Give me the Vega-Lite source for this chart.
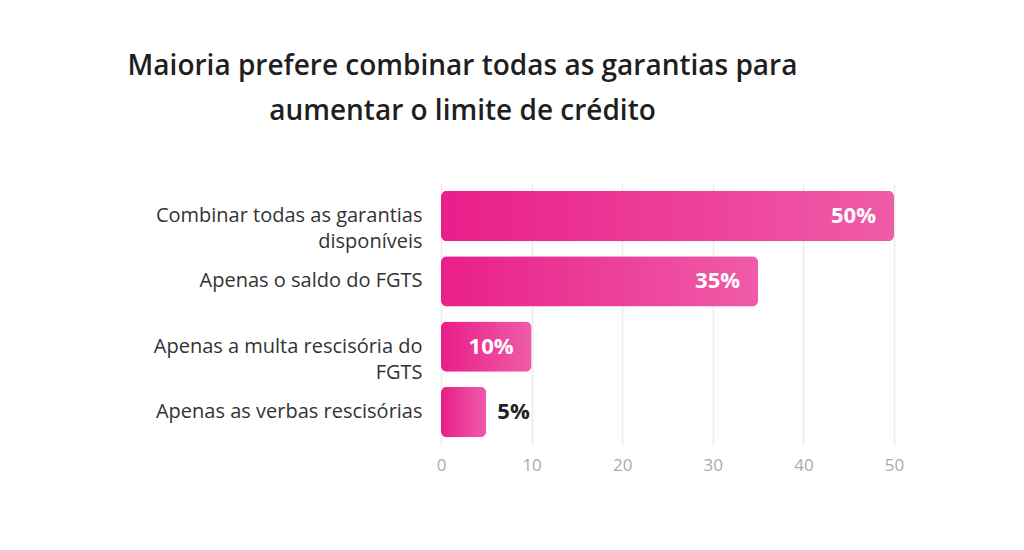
{
  "$schema": "https://vega.github.io/schema/vega-lite/v6.json",
  "autosize": {"type": "none"},
  "width": 453,
  "height": 262,
  "padding": {"left": 441, "top": 183, "right": 130, "bottom": 105},
  "background": "white",
  "view": {"stroke": null},
  "title": {
    "text": ["Maioria prefere combinar todas as garantias para", "aumentar o limite de crédito"],
    "anchor": "middle",
    "frame": "group",
    "dx": -205,
    "offset": 57,
    "font": "Open Sans",
    "fontSize": 28,
    "fontWeight": 600,
    "color": "#1f1f1f",
    "lineHeight": 45
  },
  "data": {
    "values": [
      {"label": "Combinar todas as garantias|disponíveis", "value": 50, "text": "50%"},
      {"label": "Apenas o saldo do FGTS", "value": 35, "text": "35%"},
      {"label": "Apenas a multa rescisória do|FGTS", "value": 10, "text": "10%"},
      {"label": "Apenas as verbas rescisórias", "value": 5, "text": "5%"}
    ]
  },
  "encoding": {
    "y": {
      "field": "label",
      "type": "nominal",
      "sort": null,
      "scale": {"paddingInner": 0.23, "paddingOuter": 0.12},
      "axis": {
        "title": null,
        "domain": false,
        "ticks": false,
        "grid": false,
        "labelPadding": 19,
        "labelFont": "Open Sans",
        "labelFontSize": 20,
        "labelColor": "#333333",
        "labelLineHeight": 26,
        "labelLimit": 400,
        "labelExpr": "split(datum.label, '|')"
      }
    },
    "x": {
      "field": "value",
      "type": "quantitative",
      "scale": {"domain": [0, 50], "nice": false},
      "axis": {
        "title": null,
        "values": [0, 10, 20, 30, 40, 50],
        "domain": false,
        "ticks": false,
        "grid": true,
        "gridColor": "#ECECE8",
        "gridWidth": 1.5,
        "labelFlush": false,
        "labelPadding": 12,
        "labelFont": "Open Sans",
        "labelFontSize": 17,
        "labelColor": "#ABABAB"
      }
    }
  },
  "layer": [
    {
      "mark": {
        "type": "bar",
        "cornerRadius": 6,
        "color": {
          "gradient": "linear",
          "x1": 0, "y1": 0, "x2": 1, "y2": 0,
          "stops": [
            {"offset": 0, "color": "#E91E8A"},
            {"offset": 1, "color": "#EF5CA8"}
          ]
        }
      }
    },
    {
      "transform": [{"filter": "datum.value >= 10"}],
      "mark": {"type": "text", "align": "right", "baseline": "middle", "dx": -18, "font": "Open Sans", "fontSize": 22, "fontWeight": "bold", "color": "white"},
      "encoding": {"text": {"field": "text", "type": "nominal"}}
    },
    {
      "transform": [{"filter": "datum.value < 10"}],
      "mark": {"type": "text", "align": "left", "baseline": "middle", "dx": 11, "font": "Open Sans", "fontSize": 22, "fontWeight": "bold", "color": "#222222"},
      "encoding": {"text": {"field": "text", "type": "nominal"}}
    }
  ]
}
